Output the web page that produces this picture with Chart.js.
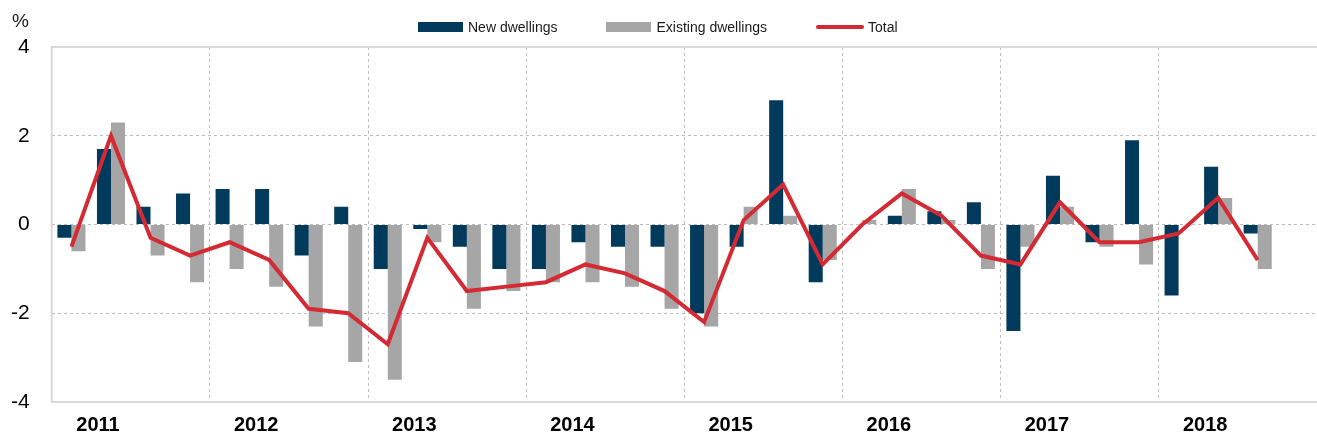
<!DOCTYPE html>
<html>
<head>
<meta charset="utf-8">
<script src="https://cdn.jsdelivr.net/npm/chart.js@4"></script>
<style>
  body { margin: 0; background: #fff; }
  #wrap { position: relative; width: 1317px; height: 439px; font-family: "Liberation Sans", Arial, sans-serif; }
  #pct { position: absolute; left: 12px; top: 10px; font-size: 19px; color: #1a1a1a; }
  #legend { position: absolute; left: 418px; top: 19px; display: flex; align-items: center; font-size: 14px; color: #1a1a1a; }
  #legend .item { display: flex; align-items: center; margin-right: 49px; }
  #legend .sw { width: 45px; height: 10px; margin-right: 5px; }
  #legend .ln { width: 48px; height: 4px; border-radius: 2px; margin-right: 4px; }
</style>
</head>
<body>
<div id="wrap">
  <canvas id="chart" width="1317" height="439"></canvas>
  <div id="pct">%</div>
  <div id="legend"></div>
</div>
<script>
const years = ["2011", "2012", "2013", "2014", "2015", "2016", "2017", "2018"];
const quarters = ["Q1", "Q2", "Q3", "Q4"];

// quarterly change, %
const newDwellings = [
  -0.3, 1.7, 0.4, 0.7,
  0.8, 0.8, -0.7, 0.4,
  -1.0, -0.1, -0.5, -1.0,
  -1.0, -0.4, -0.5, -0.5,
  -2.0, -0.5, 2.8, -1.3,
  0.0, 0.2, 0.3, 0.5,
  -2.4, 1.1, -0.4, 1.9,
  -1.6, 1.3, -0.2, null
];
const existingDwellings = [
  -0.6, 2.3, -0.7, -1.3,
  -1.0, -1.4, -2.3, -3.1,
  -3.5, -0.4, -1.9, -1.5,
  -1.3, -1.3, -1.4, -1.9,
  -2.3, 0.4, 0.2, -0.8,
  0.1, 0.8, 0.1, -1.0,
  -0.5, 0.4, -0.5, -0.9,
  0.0, 0.6, -1.0, null
];
const total = [
  -0.5, 2.0, -0.3, -0.7,
  -0.4, -0.8, -1.9, -2.0,
  -2.7, -0.3, -1.5, -1.4,
  -1.3, -0.9, -1.1, -1.5,
  -2.2, 0.1, 0.9, -0.9,
  0.0, 0.7, 0.2, -0.7,
  -0.9, 0.5, -0.4, -0.4,
  -0.2, 0.6, -0.8, null
];

const labels = years.flatMap((y) => quarters.map((q) => y + " " + q));

const NAVY = "#023a5c";
const GREY = "#a6a6a6";
const RED = "#d42a33";
const GRID = "#bdbdbd";

// solid frame on left, top and bottom of the plot
const frame = {
  id: "frame",
  beforeDatasetsDraw(chart) {
    const { ctx, chartArea: a } = chart;
    ctx.save();
    ctx.strokeStyle = "#d9d9d9";
    ctx.lineWidth = 2;
    ctx.beginPath();
    ctx.moveTo(a.right, a.top);
    ctx.lineTo(a.left, a.top);
    ctx.lineTo(a.left, a.bottom);
    ctx.lineTo(a.right, a.bottom);
    ctx.stroke();
    ctx.restore();
  },
};

const chart = new Chart(document.getElementById("chart"), {
  type: "bar",
  data: {
    labels,
    datasets: [
      {
        label: "New dwellings",
        data: newDwellings,
        backgroundColor: NAVY,
        order: 1,
      },
      {
        label: "Existing dwellings",
        data: existingDwellings,
        backgroundColor: GREY,
        order: 1,
      },
      {
        type: "line",
        label: "Total",
        data: total,
        borderColor: RED,
        backgroundColor: RED,
        borderWidth: 4,
        pointRadius: 0,
        tension: 0,
        order: 0,
      },
    ],
  },
  options: {
    responsive: false,
    animation: false,
    layout: { padding: { top: 47, left: -11, right: 0, bottom: -9 } },
    datasets: {
      bar: { categoryPercentage: 0.71, barPercentage: 1.0 },
    },
    plugins: {
      legend: { display: false },
      tooltip: { enabled: false },
    },
    scales: {
      x: {
        offset: true,
        grid: {
          offset: true,
          drawTicks: false,
          lineWidth: 1,
          color: (ctx) => (ctx.index % 4 === 0 ? GRID : "rgba(0,0,0,0)"),
        },
        border: { display: false, dash: [3, 3] },
        ticks: {
          autoSkip: false,
          maxRotation: 0,
          padding: 11,
          labelOffset: -13,
          color: "#000",
          font: { family: "Liberation Sans", size: 20, weight: "bold" },
          callback: (v, i) => (i % 4 === 1 ? labels[i].slice(0, 4) : ""),
        },
      },
      y: {
        min: -4,
        max: 4,
        ticks: {
          stepSize: 2,
          padding: 22,
          color: "#000",
          font: { family: "Liberation Sans", size: 21 },
        },
        grid: {
          drawTicks: false,
          color: (ctx) => (Math.abs(ctx.tick.value) === 4 ? "rgba(0,0,0,0)" : GRID),
        },
        border: { display: false, dash: [3, 3] },
      },
    },
  },
  plugins: [frame],
});

// legend built from the datasets
const legend = document.getElementById("legend");
chart.data.datasets.forEach((ds) => {
  const item = document.createElement("div");
  item.className = "item";
  const sw = document.createElement("span");
  sw.className = ds.type === "line" ? "ln" : "sw";
  sw.style.background = ds.type === "line" ? ds.borderColor : ds.backgroundColor;
  const txt = document.createElement("span");
  txt.textContent = ds.label;
  item.appendChild(sw);
  item.appendChild(txt);
  legend.appendChild(item);
});
</script>
</body>
</html>
